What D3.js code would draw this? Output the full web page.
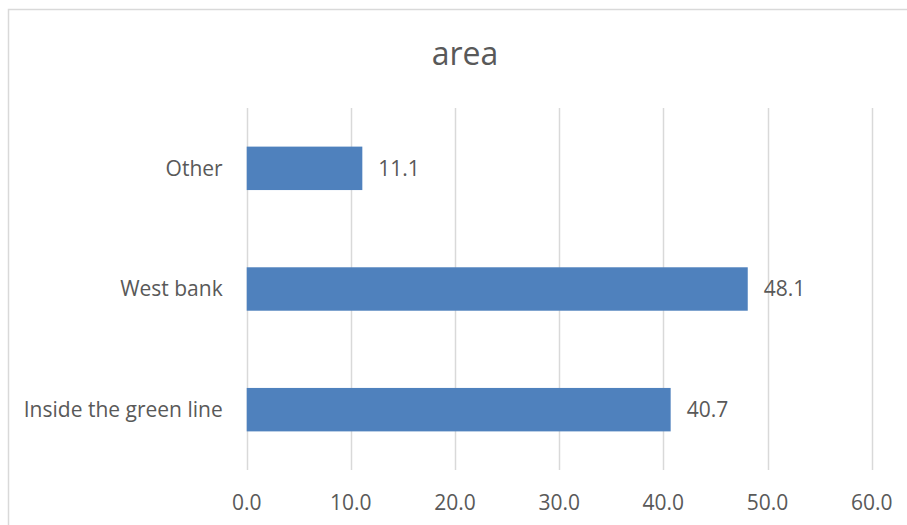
<!DOCTYPE html>
<html>
<head>
<meta charset="utf-8">
<script src="https://cdn.jsdelivr.net/npm/d3@7"></script>
<style>
  html, body { margin: 0; padding: 0; background: #ffffff; }
  svg { display: block; }
  text { font-family: "Open Sans", "Liberation Sans", sans-serif; fill: #595959; }
</style>
</head>
<body>
<svg id="chart" width="907" height="525"></svg>
<script>
// Chart data
const title = "area";
const categories = ["Other", "West bank", "Inside the green line"];
const values = [11.1, 48.1, 40.7];
const tickValues = [0, 10, 20, 30, 40, 50, 60];

const W = 907, H = 525;
const plot = { left: 246.7, right: 871.7, top: 108, bottom: 470 };

const svg = d3.select("#chart");

// Chart frame (extends past the right and bottom edges)
svg.append("rect")
  .attr("x", 8.5).attr("y", 9.5)
  .attr("width", 1000).attr("height", 1000)
  .attr("fill", "none")
  .attr("stroke", "#d9d9d9")
  .attr("stroke-width", 1.5);

const x = d3.scaleLinear().domain([0, 60]).range([plot.left, plot.right]);
const y = d3.scaleBand().domain(categories).range([plot.top, plot.bottom]).paddingInner(0.64).paddingOuter(0.32);

// Vertical gridlines
svg.append("g").selectAll("line")
  .data(tickValues)
  .join("line")
  .attr("x1", d => Math.round(x(d)) + 0.5)
  .attr("x2", d => Math.round(x(d)) + 0.5)
  .attr("y1", plot.top)
  .attr("y2", plot.bottom)
  .attr("stroke", "#d9d9d9")
  .attr("stroke-width", 1.5);

// Bars
svg.append("g").selectAll("rect")
  .data(categories)
  .join("rect")
  .attr("x", x(0))
  .attr("y", d => y(d))
  .attr("width", (d, i) => x(values[i]) - x(0))
  .attr("height", y.bandwidth())
  .attr("fill", "#4f81bd");

// Value labels
svg.append("g").selectAll("text")
  .data(categories)
  .join("text")
  .attr("x", (d, i) => x(values[i]) + 16)
  .attr("y", d => y(d) + y.bandwidth() / 2)
  .attr("dy", "0.35em")
  .attr("font-size", 21)
  .text((d, i) => values[i].toFixed(1));

// Category axis labels
svg.append("g").selectAll("text")
  .data(categories)
  .join("text")
  .attr("x", plot.left - 24)
  .attr("y", d => y(d) + y.bandwidth() / 2)
  .attr("dy", "0.35em")
  .attr("text-anchor", "end")
  .attr("font-size", 21)
  .text(d => d);

// Value axis tick labels
svg.append("g").selectAll("text")
  .data(tickValues)
  .join("text")
  .attr("x", d => x(d))
  .attr("y", 509.5)
  .attr("text-anchor", "middle")
  .attr("font-size", 21)
  .text(d => d3.format(".1f")(d));

// Title
svg.append("text")
  .attr("x", 465)
  .attr("y", 65)
  .attr("text-anchor", "middle")
  .attr("font-size", 32)
  .text(title);
</script>
</body>
</html>
